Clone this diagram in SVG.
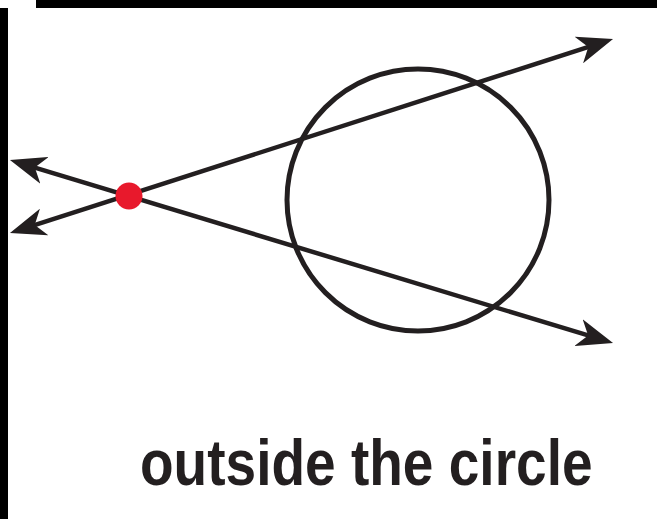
<svg xmlns="http://www.w3.org/2000/svg" width="657" height="519" viewBox="0 0 657 519">
  <style>
    .ln { stroke: #231f20; stroke-width: 4.5; fill: none; marker-start: url(#ah); marker-end: url(#ah); }
    .bar { fill: #000; }
    .lbl { font-family: "Liberation Sans", Arial, sans-serif; font-weight: bold; font-size: 64px; fill: #231f20; }
  </style>
  <defs>
    <marker id="ah" markerUnits="userSpaceOnUse" markerWidth="36" markerHeight="28" viewBox="0 0 36 28" refX="16" refY="14" orient="auto-start-reverse">
      <path d="M0,0 L36,14 L0,28 L10,14 Z" fill="#231f20"/>
    </marker>
  </defs>
  <rect width="657" height="519" fill="#fff"/>
  <g id="frame">
    <rect class="bar" x="36" y="0" width="621" height="8"/>
    <rect class="bar" x="0" y="8" width="8" height="511"/>
  </g>
  <g id="circle">
    <circle cx="418" cy="200" r="131" fill="none" stroke="#231f20" stroke-width="5"/>
  </g>
  <g id="connectors">
    <line class="ln" x1="29" y1="226.9" x2="594" y2="45.1"/>
    <line class="ln" x1="29.1" y1="165.8" x2="593.9" y2="337.2"/>
  </g>
  <g id="point">
    <circle cx="129" cy="196" r="13.5" fill="#e8192c"/>
  </g>
  <g id="label">
    <text class="lbl" transform="translate(140,485) scale(0.86,1)" x="0" y="0">outside the circle</text>
  </g>
</svg>
